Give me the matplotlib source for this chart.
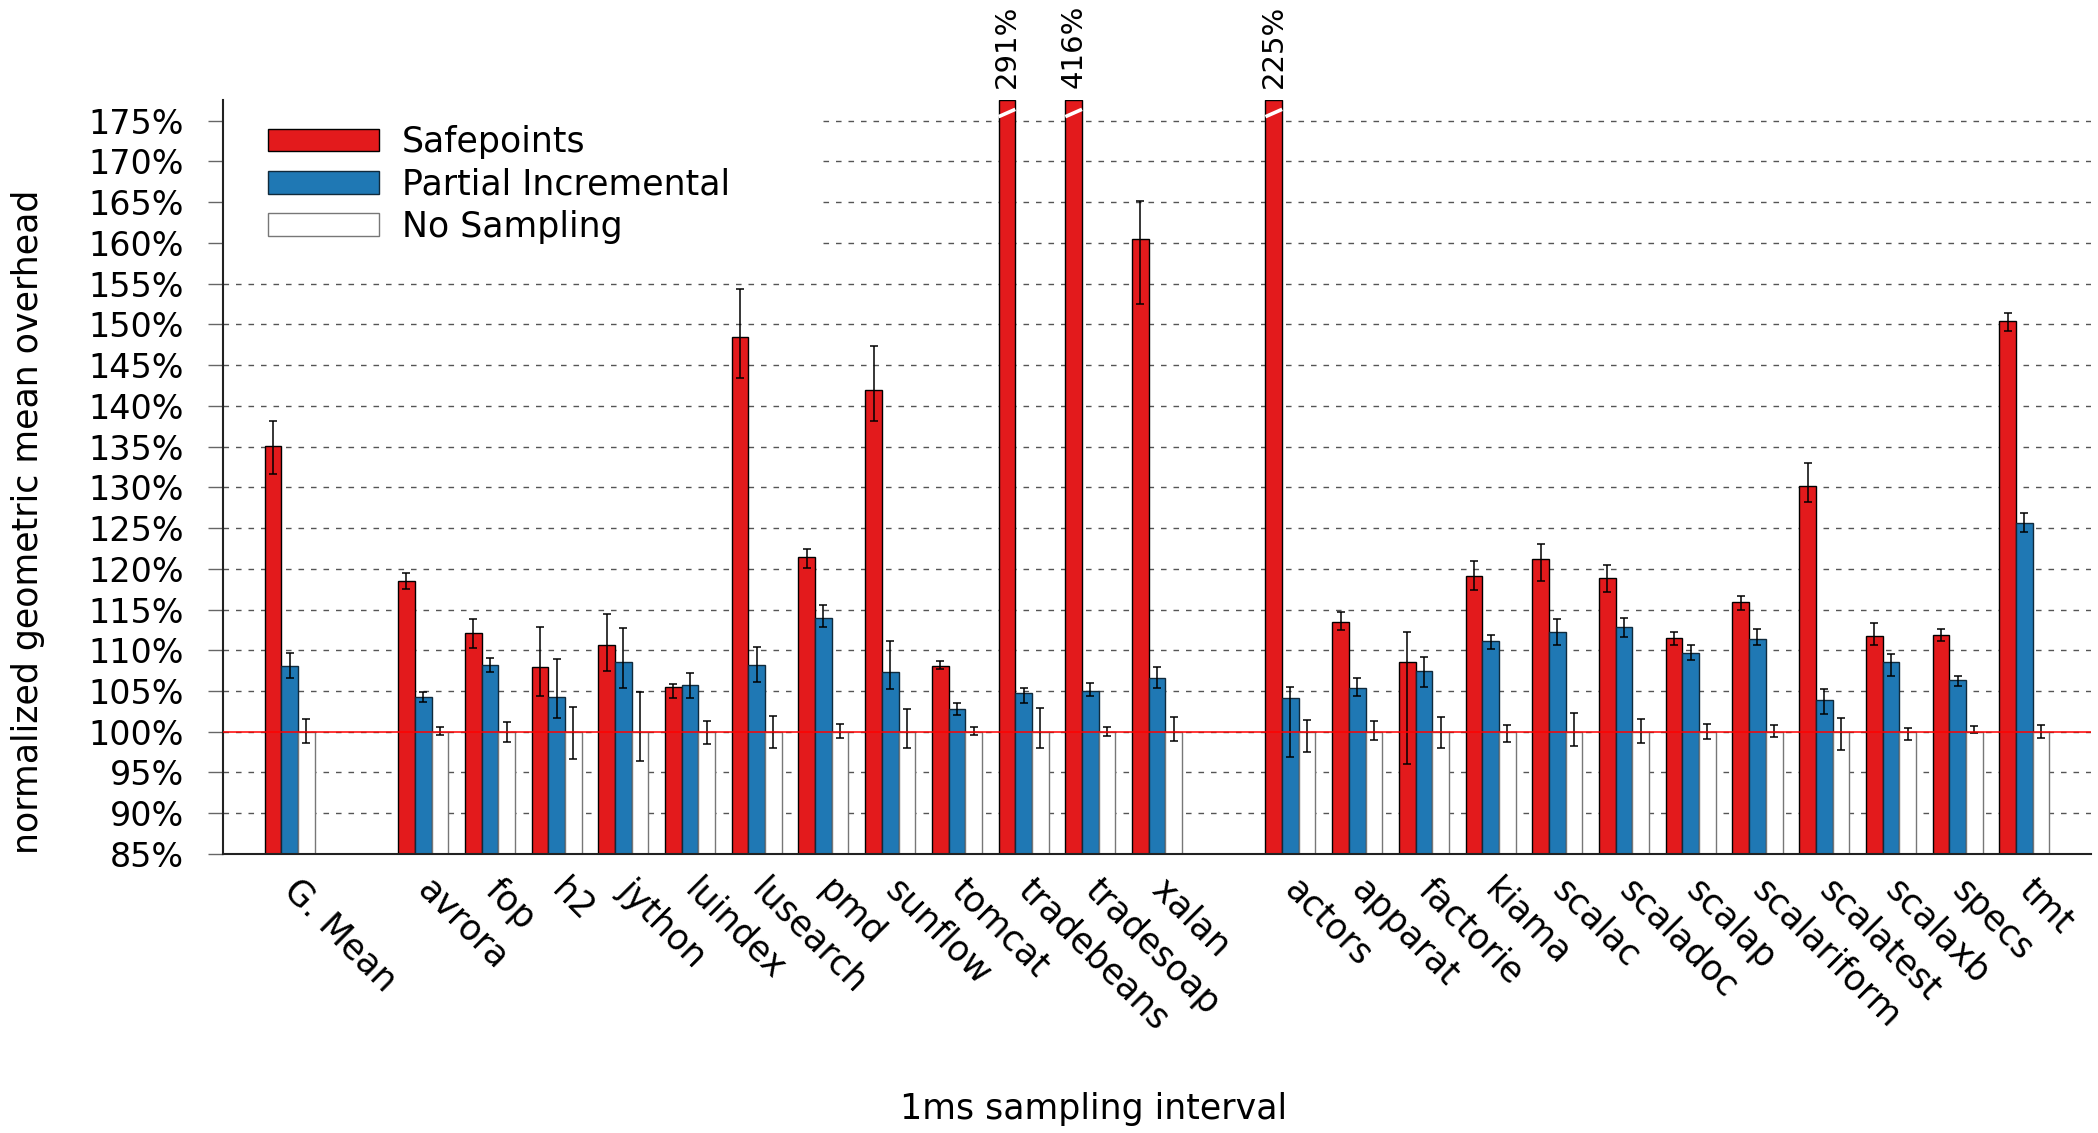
import matplotlib
matplotlib.use('Agg')
import matplotlib.pyplot as plt
import numpy as np
from matplotlib.patches import Patch, Rectangle
from matplotlib.transforms import blended_transform_factory

plt.rcParams['font.family'] = 'DejaVu Sans'

# benchmark suites (a blank slot separates them on the x axis)
gmean = ['G. Mean']
dacapo = ['avrora', 'fop', 'h2', 'jython', 'luindex', 'lusearch', 'pmd',
          'sunflow', 'tomcat', 'tradebeans', 'tradesoap', 'xalan']
scala = ['actors', 'apparat', 'factorie', 'kiama', 'scalac', 'scaladoc',
         'scalap', 'scalariform', 'scalatest', 'scalaxb', 'specs', 'tmt']

# normalized overhead in %, with confidence interval (low, high)
safepoints = [135.1, 118.5, 112.1, 107.9, 110.7, 105.5, 148.5, 121.4, 142.0,
              108.1, 291, 416, 160.5, 225, 113.5, 108.5, 119.1, 121.2, 118.9,
              111.5, 115.9, 130.2, 111.7, 111.9, 150.45]
safepoints_lo = [131.6, 117.5, 110.3, 104.4, 107.4, 104.2, 143.4, 120.1, 138.2,
                 107.7, np.nan, np.nan, 152.5, np.nan, 112.5, 96.1, 117.4, 118.5,
                 117.1, 110.6, 115.0, 128.2, 110.6, 111.1, 149.2]
safepoints_hi = [138.1, 119.5, 113.9, 112.8, 114.5, 105.9, 154.3, 122.4, 147.3,
                 108.7, np.nan, np.nan, 165.1, np.nan, 114.7, 112.3, 120.9, 123.0,
                 120.5, 112.3, 116.7, 133.0, 113.3, 112.6, 151.35]

partial = [108.1, 104.3, 108.2, 104.3, 108.6, 105.7, 108.2, 114.0, 107.3, 102.8,
           104.7, 105.0, 106.6, 104.1, 105.4, 107.5, 111.1, 112.3, 112.8, 109.7,
           111.4, 103.9, 108.6, 106.3, 125.6]
partial_lo = [106.6, 103.7, 107.3, 101.7, 105.4, 104.2, 106.1, 112.8, 105.3, 102.0,
              103.5, 104.4, 105.4, 96.9, 104.4, 105.5, 110.2, 110.6, 111.6, 108.8,
              110.6, 102.2, 106.9, 105.6, 124.5]
partial_hi = [109.7, 104.9, 109.1, 108.9, 112.7, 107.2, 110.4, 115.5, 111.1, 103.5,
              105.4, 106.0, 107.9, 105.5, 106.6, 109.2, 111.9, 113.9, 114.0, 110.6,
              112.6, 105.3, 109.6, 106.8, 126.9]

nosampling = [100.0] * 25
nosampling_lo = [98.6, 99.6, 98.8, 96.6, 96.4, 98.5, 98.0, 99.2, 98.0, 99.6, 98.0,
                 99.5, 98.9, 97.5, 99.0, 98.0, 98.8, 98.3, 98.6, 99.1, 99.4, 97.8,
                 99.0, 99.8, 99.2]
nosampling_hi = [101.6, 100.6, 101.2, 103.0, 104.9, 101.3, 101.9, 100.9, 102.8, 100.6,
                 102.9, 100.6, 101.8, 101.4, 101.3, 101.8, 100.8, 102.3, 101.6, 100.9,
                 100.8, 101.7, 100.5, 100.7, 100.8]

RED = '#e31a1c'
BLUE = '#1f78b4'
FS = 25

names = gmean + dacapo + scala
pos = []
start = 0
for suite in [gmean, dacapo, scala]:
    pos += list(range(start, start + len(suite)))
    start += len(suite) + 1
pos = np.array(pos, dtype=float)

ylo, yhi = 85, 177.5

fig = plt.figure(figsize=(20.98, 11.33), dpi=100)
ax = fig.add_axes([0.1063, 0.2463, 0.8904, 0.6651])

w = 0.25
series = [
    (safepoints, safepoints_lo, safepoints_hi, RED, 'black', -w, 'Safepoints'),
    (partial, partial_lo, partial_hi, BLUE, '#102a3c', 0, 'Partial Incremental'),
    (nosampling, nosampling_lo, nosampling_hi, 'white', '#777777', w, 'No Sampling'),
]
handles = []
for vals, lo, hi, fc, ec, off, lab in series:
    vals = np.array(vals)
    lo = np.array(lo)
    hi = np.array(hi)
    ax.bar(pos + off, np.minimum(vals, yhi), width=w, color=fc, edgecolor=ec,
           linewidth=1.0, zorder=2)
    ok = ~np.isnan(lo)
    ax.errorbar(pos[ok] + off, vals[ok], yerr=[vals[ok] - lo[ok], hi[ok] - vals[ok]],
                fmt='none', ecolor='black', elinewidth=1.1, capsize=3, capthick=1.1,
                zorder=3)
    handles.append(Patch(facecolor=fc, edgecolor=ec, linewidth=1.0, label=lab))

    # broken bars: slash mark and value label on top
    for x, v in zip(pos + off, vals):
        if v > yhi:
            ax.plot([x - w / 2, x + w / 2], [175.5, 176.4], color='white', lw=2.6,
                    zorder=4, solid_capstyle='butt', clip_on=False)
            ax.annotate(f'{v:.0f}%', (x, yhi), xytext=(0, 9), textcoords='offset points',
                        rotation=90, ha='center', va='bottom', fontsize=21,
                        annotation_clip=False)

ax.axhline(100, color='red', lw=1.1, zorder=5)

ax.set_ylim(ylo, yhi)
ax.set_xlim(-1, 27)
yt = np.arange(85, 176, 5)
ax.set_yticks(yt)
ax.set_yticklabels([f'{t}%' for t in yt], fontsize=24)
ax.set_xticks(pos)
ax.set_xticklabels(names, fontsize=FS, rotation=-45, ha='left', va='center',
                   rotation_mode='anchor')
ax.tick_params(axis='x', length=0, pad=22)
ax.tick_params(axis='y', direction='out', length=11, width=1, color='#666666', pad=17)

ax.set_axisbelow(True)
ax.yaxis.grid(True, linestyle=(0, (4, 5)), color='#555555', linewidth=1.0)

# blank the grid behind the key
trans = blended_transform_factory(ax.transAxes, ax.transData)
ax.add_patch(Rectangle((0, 157.5), 0.321, 30, transform=trans, facecolor='white',
                       edgecolor='none', zorder=1))

for s in ['top', 'right']:
    ax.spines[s].set_visible(False)
for s in ['left', 'bottom']:
    ax.spines[s].set_linewidth(1.5)
    ax.spines[s].set_color('#222222')

ax.legend(handles=handles, loc='upper left', bbox_to_anchor=(0.024, 0.967), frameon=False,
          fontsize=FS, handlelength=3.2, handleheight=0.63, handletextpad=0.66,
          labelspacing=0.24, borderpad=0, borderaxespad=0)

fig.text(28 / 2098, 1 - 522 / 1133, 'normalized geometric mean overhead', rotation=90,
         ha='center', va='center', fontsize=FS)
fig.text(1094 / 2098, 1 - 1109 / 1133, '1ms sampling interval', ha='center', va='center',
         fontsize=FS)

fig.savefig('out.png', dpi=100)
